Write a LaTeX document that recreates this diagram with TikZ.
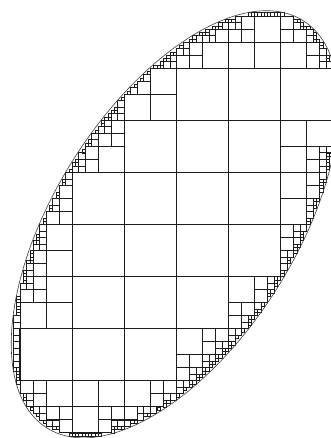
\documentclass[tikz,border=0pt]{standalone}
\usepackage{tikz}
\definecolor{gridink}{RGB}{28,28,28}

% value of the ellipse form at (x,y): below 1 means inside
\newcommand\ellval[3]{%
  \pgfmathsetmacro\eu{(#1-175)/100}%
  \pgfmathsetmacro\ew{(#2-213.7)/100}%
  \pgfmathsetmacro#3{(1.70*\eu*\eu-1.4572*\eu*\ew+\ew*\ew)*0.319}}

% one quadtree cell: lower left corner (#1,#2), side #3
\newcommand\qcell[3]{%
  \pgfmathsetmacro\qr{#1+#3}\pgfmathsetmacro\qt{#2+#3}%
  \ellval{#1}{#2}\ga\ellval{\qr}{#2}\gb\ellval{#1}{\qt}\gc\ellval{\qr}{\qt}\gd
  \pgfmathsetmacro\gmax{max(\ga,\gb,\gc,\gd)}%
  \ifdim\gmax pt<1pt
    \pgfmathsetmacro\qlw{0.45+0.013*#3}%
    \draw[cellbox, line width=\qlw pt] (#1,#2) rectangle (\qr,\qt);
  \else
    \ellval{#1+#3/2}{#2+#3/2}\gm
    \pgfmathsetmacro\qoff{sqrt(\gm)-0.7072*#3/120.5}%
    \ifdim\qoff pt<1pt
      \ifdim#3pt>4pt
        \pgfmathsetmacro\qh{#3/2}%
        \pgfmathsetmacro\qx{#1+\qh}\pgfmathsetmacro\qy{#2+\qh}%
        \edef\qnext{\noexpand\qcell{#1}{#2}{\qh}\noexpand\qcell{\qx}{#2}{\qh}%
          \noexpand\qcell{#1}{\qy}{\qh}\noexpand\qcell{\qx}{\qy}{\qh}}%
        \qnext
      \fi
    \fi
  \fi}

\begin{document}
\begin{tikzpicture}[x=1pt, y=1pt,
  cellbox/.style={draw=gridink, line join=miter},
  ellline/.style={draw=gridink!85, line width=0.6pt}]
  \useasboundingbox (0,0) rectangle (331,438);
  \clip (0,0) rectangle (331,438);
  % coarse grid, refined towards the boundary
  \foreach \i in {-1,...,6} {
    \foreach \j in {-1,...,8} {
      \pgfmathsetmacro\colx{20+52.1*\i}
      \pgfmathsetmacro\rowy{369.9-52.1*\j}
      \qcell{\colx}{\rowy}{52.1}
    }
  }
  \draw[ellline, rotate around={57.83:(175,213.7)}] (175,213.7) ellipse (240.6pt and 120.5pt);
\end{tikzpicture}
\end{document}
